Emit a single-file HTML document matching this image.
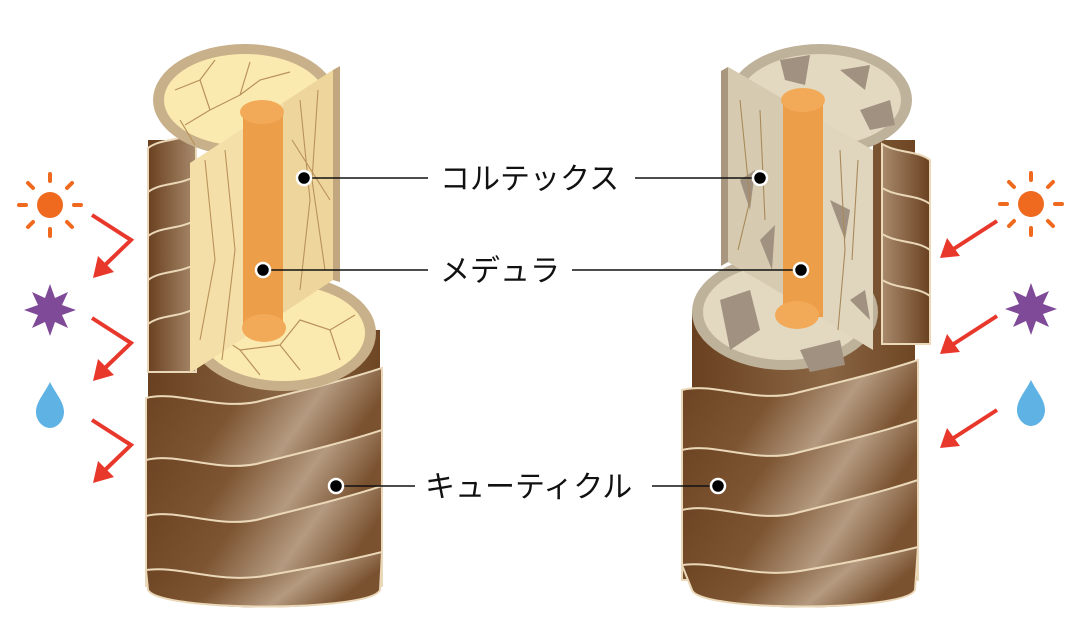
<!DOCTYPE html>
<html><head><meta charset="utf-8"><style>
html,body{margin:0;padding:0;background:#fff;}
svg{display:block}
text{font-family:"Liberation Sans","Noto Sans CJK JP",sans-serif;font-size:30px;fill:#111;}
</style></head><body>
<svg width="1082" height="631" viewBox="0 0 1082 631" xmlns="http://www.w3.org/2000/svg">
<defs>
<linearGradient id="sc" x1="0" y1="0" x2="1" y2="0.3">
<stop offset="0" stop-color="#6a4120"/><stop offset="0.45" stop-color="#7d5532"/><stop offset="0.75" stop-color="#b49a80"/><stop offset="1" stop-color="#7a5230"/>
</linearGradient>
<linearGradient id="bd" x1="0" y1="0" x2="1" y2="0">
<stop offset="0" stop-color="#6a4120"/><stop offset="0.6" stop-color="#8a6644"/><stop offset="1" stop-color="#6e4624"/>
</linearGradient>
<linearGradient id="st" x1="0" y1="0" x2="1" y2="0">
<stop offset="0" stop-color="#6a4120"/><stop offset="1" stop-color="#a88a6c"/>
</linearGradient>
<path id="band" d="M0,0 C30,-8 70,12 110,4 C150,-6 200,-18 236,-30 L236,70 L0,70 Z" fill="url(#sc)" stroke="#ead8b8" stroke-width="2"/>
<path id="strip" d="M0,0 C14,-10 30,-6 48,-16 L48,48 L0,48 Z" fill="url(#st)" stroke="#ead8b8" stroke-width="2"/>
</defs>

<!-- LEFT HAIR -->
<g>
<path d="M148,140 L196,140 L196,330 L380,330 L380,585 C380,615 148,615 148,585 Z" fill="url(#bd)"/>
<use href="#strip" x="148" y="148"/>
<use href="#strip" x="148" y="192"/>
<use href="#strip" x="148" y="236"/>
<use href="#strip" x="148" y="280"/>
<use href="#strip" x="148" y="324"/>
<use href="#band" x="146" y="398"/>
<use href="#band" x="146" y="460"/>
<use href="#band" x="146" y="516"/>
<path d="M146,570 C180,565 220,585 270,575 C310,568 350,560 382,552 L380,590 C370,612 160,612 148,590 Z" fill="url(#sc)" stroke="#ead8b8" stroke-width="2"/>
<ellipse cx="283" cy="333" rx="93" ry="58" fill="#c8b08a"/>
<ellipse cx="283" cy="333" rx="82" ry="48" fill="#fbeab0"/>
<ellipse cx="245" cy="100" rx="92" ry="56" fill="#c8b08a"/>
<ellipse cx="245" cy="100" rx="81" ry="46" fill="#fbeab0"/>
<g stroke="#b8925a" stroke-width="1.2" fill="none">
<path d="M175,90 L200,80 L215,60 M200,80 L210,110 L185,125 M210,110 L240,95 L250,62 M240,95 L260,80 L290,72 M180,120 L195,145"/>
<path d="M210,330 L240,350 L260,375 M240,350 L280,345 L300,370 M280,345 L300,320 L330,330 L355,315 M330,330 L340,360"/>
</g>
<polygon points="190,163 333,70 333,280 190,373" fill="#f5dfa8"/>
<polygon points="283,103 333,70 333,280 283,313" fill="#eed59c"/>
<polygon points="333,70 340,66 340,282 333,280" fill="#c2a680"/>
<g stroke="#b8925a" stroke-width="1.1" fill="none">
<path d="M205,160 L215,260 L200,340 M225,150 L235,250 L222,360 M300,100 L310,200 L300,290 M318,90 L312,180 L325,270 M292,140 L330,200"/>
</g>
<rect x="243" y="108" width="40" height="222" fill="#ed9e48"/>
<ellipse cx="262" cy="112" rx="22" ry="12" fill="#f3aa58"/>
<ellipse cx="264" cy="328" rx="22" ry="14" fill="#f3aa58"/>
</g>

<!-- RIGHT HAIR -->
<g>
<path d="M873,140 L915,140 L915,585 C915,615 692,615 692,585 L692,310 L873,310 Z" fill="url(#bd)"/>
<g transform="translate(1610,0) scale(-1,1)">
<use href="#strip" x="680" y="160"/>
<use href="#strip" x="680" y="204"/>
<use href="#strip" x="680" y="250"/>
<use href="#strip" x="680" y="296"/>
</g>
<use href="#band" x="682" y="390"/>
<use href="#band" x="682" y="450"/>
<use href="#band" x="682" y="510"/>
<path d="M682,565 C716,560 756,580 806,570 C846,563 886,555 918,547 L915,590 C905,612 700,612 692,590 Z" fill="url(#sc)" stroke="#ead8b8" stroke-width="2"/>
<ellipse cx="785" cy="312" rx="93" ry="58" fill="#bfb29a"/>
<ellipse cx="785" cy="312" rx="82" ry="48" fill="#e3d8c0"/>
<path d="M720,300 L750,290 L760,330 L730,350 Z M800,350 L840,340 L845,365 L810,372 Z" fill="#a19180"/>
<ellipse cx="820" cy="100" rx="92" ry="56" fill="#bfb29a"/>
<ellipse cx="820" cy="100" rx="81" ry="46" fill="#e3d8c0"/>
<path d="M780,60 L810,55 L805,85 L785,80 Z M860,110 L890,100 L895,125 L870,130 Z M840,70 L870,65 L865,90 Z" fill="#a19180"/>
<polygon points="728,67 873,150 873,350 728,262" fill="#e0d5bd"/>
<polygon points="728,67 783,99 783,294 728,262" fill="#d6cab0"/>
<polygon points="721,71 728,67 728,262 721,266" fill="#a8977e"/>
<path d="M740,180 L755,170 L750,210 Z M830,200 L850,210 L845,240 Z M760,240 L775,225 L772,270 Z M850,300 L865,290 L870,320 Z" fill="#a19180"/>
<g stroke="#a88a5a" stroke-width="1.1" fill="none">
<path d="M740,100 L750,200 L738,250 M760,110 L765,220 M840,150 L845,250 L838,330 M858,160 L852,260"/>
</g>
<rect x="783" y="95" width="40" height="222" fill="#ed9e48"/>
<ellipse cx="803" cy="100" rx="22" ry="12" fill="#f3aa58"/>
<ellipse cx="797" cy="315" rx="22" ry="14" fill="#f3aa58"/>
</g>

<g stroke="#111" stroke-width="1.6">
<line x1="305" y1="178" x2="428" y2="178"/>
<line x1="635" y1="178" x2="760" y2="178"/>
<line x1="262" y1="270" x2="428" y2="270"/>
<line x1="572" y1="270" x2="800" y2="270"/>
<line x1="335" y1="486" x2="415" y2="486"/>
<line x1="652" y1="486" x2="718" y2="486"/>
</g>
<g fill="#000" stroke="#fff" stroke-width="2.5">
<circle cx="304" cy="178" r="7"/><circle cx="760" cy="178" r="7"/>
<circle cx="263" cy="270" r="7"/><circle cx="801" cy="270" r="7"/>
<circle cx="336" cy="486" r="7"/><circle cx="718" cy="486" r="7"/>
</g>
<text x="440" y="189">コルテックス</text>
<text x="440" y="281">メデュラ</text>
<text x="425" y="497">キューティクル</text>

<g fill="#ef6a1f" stroke="#ef6a1f" stroke-width="4" stroke-linecap="round">
<circle cx="50" cy="205" r="13" stroke="none"/>
<path d="M50,174 v7 M50,229 v7 M19,205 h7 M74,205 h7 M28,183 l5,5 M67,222 l5,5 M72,183 l-5,5 M33,222 l-5,5"/>
</g>
<g fill="#ef6a1f" stroke="#ef6a1f" stroke-width="4" stroke-linecap="round">
<circle cx="1031" cy="204" r="13" stroke="none"/>
<path d="M1031,173 v7 M1031,228 v7 M1000,204 h7 M1055,204 h7 M1009,182 l5,5 M1048,221 l5,5 M1053,182 l-5,5 M1014,221 l-5,5"/>
</g>
<polygon fill="#7f4a97" points="50,284 55,298 68,292 62,305 76,310 62,315 68,328 55,322 50,336 45,322 32,328 38,315 24,310 38,305 32,292 45,298"/>
<polygon fill="#7f4a97" points="1031,283 1036,297 1049,291 1043,304 1057,309 1043,314 1049,327 1036,321 1031,335 1026,321 1013,327 1019,314 1005,309 1019,304 1013,291 1026,297"/>
<path d="M50,382 C44,394 36,402 36,412 C36,421 43,428 50,428 C57,428 64,421 64,412 C64,402 56,394 50,382 Z" fill="#5eb3e4"/>
<path d="M1031,380 C1025,392 1017,400 1017,410 C1017,419 1024,426 1031,426 C1038,426 1045,419 1045,410 C1045,400 1037,392 1031,380 Z" fill="#5eb3e4"/>

<g stroke="#e8382c" stroke-width="4" fill="none">
<path d="M92,215 L131,240 L104,266"/>
<path d="M92,318 L131,343 L104,369"/>
<path d="M92,420 L131,445 L104,471"/>
<path d="M997,221 L952,250"/>
<path d="M997,316 L952,345"/>
<path d="M997,410 L952,439"/>
</g>
<g fill="#e8382c">
<polygon points="93,278 98,256 114,272"/>
<polygon points="93,381 98,359 114,375"/>
<polygon points="93,483 98,461 114,477"/>
<polygon points="940,258 947,238 960,256"/>
<polygon points="940,354 947,334 960,352"/>
<polygon points="940,448 947,428 960,446"/>
</g>
</svg>
</body></html>
